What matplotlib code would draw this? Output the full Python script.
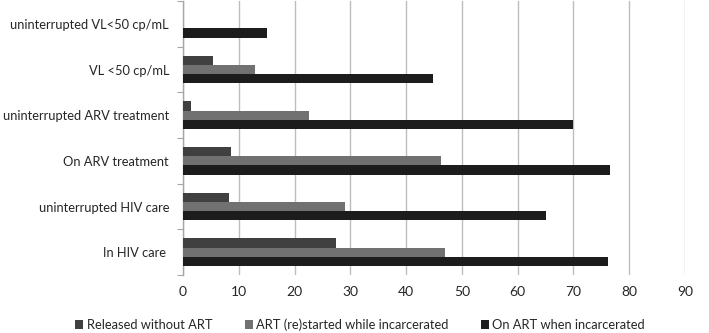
import matplotlib.pyplot as plt
import numpy as np

plt.rcParams['font.family'] = ['Lato', 'DejaVu Sans']

categories = [
    "uninterrupted VL<50 cp/mL",
    "VL <50 cp/mL",
    "uninterrupted ARV treatment",
    "On ARV treatment",
    "uninterrupted HIV care",
    "In HIV care ",
]
released_without_art = [0, 5.4, 1.4, 8.6, 8.2, 27.4]
art_started_incarcerated = [0, 12.9, 22.6, 46.3, 29.0, 46.9]
on_art_when_incarcerated = [15.0, 44.9, 69.9, 76.5, 65.0, 76.2]
series_names = ["Released without ART", "ART (re)started while incarcerated",
                "On ART when incarcerated"]
x_ticks = list(range(0, 91, 10))

colors = ["#404040", "#717171", "#1c1c1c"]
text_color = "#262626"

fig = plt.figure(figsize=(7.09, 3.33), dpi=100)
ax = fig.add_axes([183 / 709, 1 - 275 / 333, (685 - 183) / 709, 274 / 333])

y = np.arange(len(categories))
h = 0.204
series = [released_without_art, art_started_incarcerated, on_art_when_incarcerated]
for i, (vals, name, c) in enumerate(zip(series, series_names, colors)):
    ax.barh(y + (i - 1) * h, vals, height=h, color=c, label=name, linewidth=0, zorder=3)

ax.set_xlim(0, 90)
ax.set_ylim(len(categories) - 0.5, -0.5)
ax.set_xticks(x_ticks)
ax.set_yticks(y)
ax.set_yticklabels(categories)
ax.set_yticks(np.arange(-0.5, len(categories)), minor=True)
ax.tick_params(axis='y', which='major', length=0, pad=10, labelsize=9.3, labelcolor=text_color)
ax.tick_params(axis='y', which='minor', length=4, color="#a6a6a6", width=0.8)
ax.tick_params(axis='x', length=0, pad=8, labelsize=10, labelcolor=text_color)

ax.grid(axis='x', color="#bdbdbd", linewidth=1, zorder=0)
for s in ['top', 'right', 'bottom']:
    ax.spines[s].set_visible(False)
ax.spines['left'].set_color("#a6a6a6")
ax.spines['left'].set_linewidth(1)

handles, labels = ax.get_legend_handles_labels()
fig.legend(handles, labels, loc='center', bbox_to_anchor=(360 / 709, 1 - 325 / 333),
           ncol=3, frameon=False, fontsize=9.3, handlelength=0.65, handleheight=0.65,
           handletextpad=0.25, columnspacing=2.5, labelcolor=text_color)

fig.savefig("out.png", dpi=100)
